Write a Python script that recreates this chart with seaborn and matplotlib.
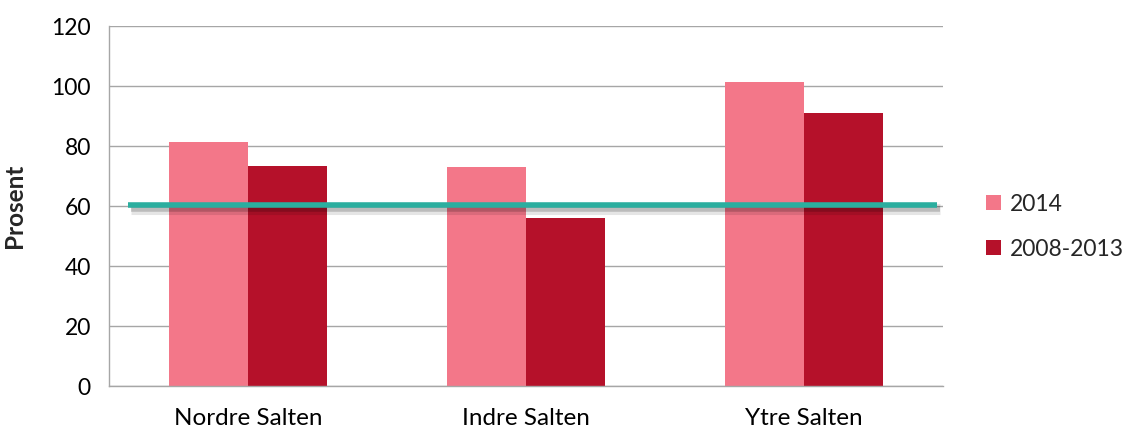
import numpy as np
import pandas as pd
import matplotlib
matplotlib.use("Agg")
import matplotlib.pyplot as plt
import matplotlib.patheffects as pe
from matplotlib.patches import Patch
import seaborn as sns

regions = ["Nordre Salten", "Indre Salten", "Ytre Salten"]
series = ["2014", "2008-2013"]
vals_2014 = [81.5, 73.0, 101.5]
vals_2008_2013 = [73.5, 56.0, 91.0]
reference_level = 60.5

colors = {"2014": "#F37789", "2008-2013": "#B5112A"}
line_color = "#2BAE9F"

df = pd.DataFrame({
    "Region": regions * 2,
    "Serie": ["2014"] * 3 + ["2008-2013"] * 3,
    "Prosent": vals_2014 + vals_2008_2013,
})

sns.set_style("white")
plt.rcParams["font.family"] = ["Lato", "DejaVu Sans"]

fig = plt.figure(figsize=(11.24, 4.30), dpi=100)
ax = fig.add_axes([0.097, 0.1023, 0.742, 0.8372])

sns.barplot(data=df, x="Region", y="Prosent", hue="Serie", hue_order=series,
            palette=colors, width=0.57, saturation=1, ax=ax, legend=False,
            edgecolor="none", zorder=2)

ax.set_ylim(0, 120)
ax.set_xlim(-0.5, 2.5)
ax.set_yticks(np.arange(0, 121, 20))
ax.yaxis.grid(True, color="#A6A6A6", linewidth=1.0, zorder=0)
ax.set_axisbelow(True)

for s in ["top", "right"]:
    ax.spines[s].set_visible(False)
for s in ["left", "bottom"]:
    ax.spines[s].set_color("#A6A6A6")
    ax.spines[s].set_linewidth(1.0)

ax.set_xticks([0, 1, 2])
ax.set_xticklabels(regions)
ax.set_xticks([-0.5, 0.5, 1.5, 2.5], minor=True)
ax.tick_params(axis="x", which="major", length=0, labelsize=17.5, pad=16, colors="#000000")
ax.tick_params(axis="x", which="minor", length=7, width=1, color="#A6A6A6", direction="out")
ax.tick_params(axis="y", length=7, width=1, color="#A6A6A6", labelsize=16.5, pad=6,
               direction="out")
ax.tick_params(axis="y", labelcolor="#000000")
ax.set_xlabel("")
ax.set_ylabel("Prosent", fontsize=17.5, fontweight="bold")
ax.yaxis.set_label_coords(-0.099, 0.5)

# soft shadow under the reference line
shadow = [pe.SimpleLineShadow(offset=(1.5, -3.5), shadow_color="black", alpha=0.1, linewidth=8),
          pe.SimpleLineShadow(offset=(1.5, -3), shadow_color="black", alpha=0.18, linewidth=4),
          pe.Normal()]
ax.plot([-0.43, 2.48], [reference_level, reference_level], color=line_color,
        linewidth=4, solid_capstyle="butt", zorder=4, path_effects=shadow)

handles = [Patch(facecolor=colors[s], edgecolor="none") for s in series]
fig.legend(handles, series, loc="center left", bbox_to_anchor=(0.859, 0.473),
           frameon=False, fontsize=16.5, handlelength=0.65, handleheight=0.65,
           handletextpad=0.4, labelspacing=1.05)

fig.savefig("out.png", dpi=100)
